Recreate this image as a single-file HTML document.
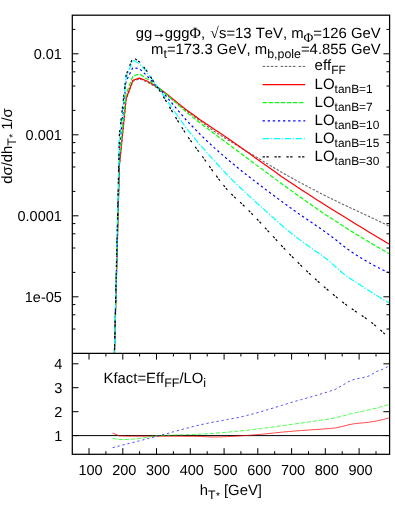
<!DOCTYPE html>
<html><head><meta charset="utf-8"><title>plot</title><style>html,body{margin:0;padding:0;background:#fff;}body{width:395px;height:505px;overflow:hidden;position:relative;font-family:"Liberation Sans",sans-serif;}</style></head><body>
<svg width="395" height="505" viewBox="0 0 395 505" style="position:absolute;left:0;top:0;will-change:transform;font-family:'Liberation Sans',sans-serif;text-rendering:geometricPrecision;font-kerning:none;font-feature-settings:'kern' 0,'liga' 0;">
<defs><clipPath id="cu"><rect x="72.3" y="15.2" width="317.3" height="338.2"/></clipPath><clipPath id="cl"><rect x="72.3" y="353.4" width="317.3" height="100.9"/></clipPath></defs>
<g clip-path="url(#cu)" fill="none" stroke-linejoin="round">
<polyline points="112.6,420.4 119.4,165.7 126.1,99.5 132.9,81.2 139.6,79.0 146.4,81.6 153.1,85.4 159.9,89.7 166.7,94.8 173.4,100.4 180.2,105.9 186.9,111.2 193.7,116.2 200.4,121.1 207.2,126.2 213.9,131.1 220.7,135.4 227.4,139.6 234.2,143.7 240.9,147.8 247.7,152.0 254.4,155.9 261.2,160.0 267.9,164.1 274.7,168.2 281.4,172.1 288.2,176.0 295.0,179.7 301.7,183.4 308.5,187.0 315.2,190.5 322.0,194.0 328.7,197.4 335.5,200.7 342.2,204.0 349.0,207.2 355.7,210.3 362.5,213.5 369.2,216.6 376.0,219.8 382.7,223.0 389.5,226.3" stroke="#666" stroke-width="1.1" stroke-dasharray="2.5 1.6"/>
<polyline points="112.6,423.9 119.4,165.2 126.1,98.8 132.9,80.3 139.6,78.1 146.4,80.7 153.1,84.5 159.9,88.8 166.7,93.9 173.4,99.5 180.2,104.9 186.9,110.2 193.7,115.1 200.4,119.9 207.2,124.5 213.9,129.0 220.7,133.5 227.4,138.0 234.2,142.7 240.9,147.5 247.7,152.3 254.4,157.2 261.2,162.0 267.9,166.8 274.7,171.6 281.4,176.4 288.2,181.0 295.0,185.5 301.7,190.0 308.5,194.3 315.2,198.7 322.0,202.9 328.7,207.2 335.5,211.4 342.2,215.6 349.0,219.8 355.7,223.9 362.5,228.1 369.2,232.2 376.0,236.2 382.7,240.2 389.5,244.2" stroke="#f00" stroke-width="1.2"/>
<polyline points="112.6,426.6 119.4,158.2 126.1,94.3 132.9,76.0 139.6,74.0 146.4,78.4 153.1,83.6 159.9,89.0 166.7,94.7 173.4,100.7 180.2,106.6 186.9,112.5 193.7,117.9 200.4,123.2 207.2,128.3 213.9,133.4 220.7,138.4 227.4,143.4 234.2,148.4 240.9,153.5 247.7,158.6 254.4,163.6 261.2,168.6 267.9,173.6 274.7,178.6 281.4,183.5 288.2,188.4 295.0,193.3 301.7,198.1 308.5,202.9 315.2,207.6 322.0,212.3 328.7,216.8 335.5,221.1 342.2,225.5 349.0,229.7 355.7,233.9 362.5,238.1 369.2,242.1 376.0,246.1 382.7,249.9 389.5,253.7" stroke="#0f0" stroke-width="1.2" stroke-dasharray="4.2 1.9"/>
<polyline points="112.6,430.2 119.4,148.2 126.1,81.2 132.9,67.5 139.6,68.8 146.4,75.3 153.1,82.4 159.9,89.3 166.7,96.9 173.4,104.9 180.2,113.0 186.9,120.7 193.7,127.8 200.4,134.6 207.2,141.2 213.9,147.4 220.7,153.4 227.4,159.2 234.2,164.8 240.9,170.3 247.7,175.7 254.4,180.9 261.2,186.1 267.9,191.2 274.7,196.2 281.4,201.2 288.2,206.2 295.0,211.1 301.7,215.8 308.5,220.3 315.2,224.9 322.0,229.6 328.7,234.4 335.5,239.5 342.2,245.0 349.0,250.1 355.7,254.6 362.5,258.8 369.2,262.8 376.0,266.5 382.7,269.9 389.5,272.8" stroke="#00f" stroke-width="1.2" stroke-dasharray="2.3 2.8"/>
<polyline points="112.6,431.9 119.4,140.2 126.1,77.8 132.9,60.1 139.6,64.0 146.4,71.4 153.1,80.8 159.9,90.2 166.7,99.9 173.4,109.8 180.2,119.5 186.9,128.8 193.7,137.3 200.4,145.2 207.2,152.8 213.9,160.4 220.7,167.8 227.4,175.0 234.2,181.8 240.9,188.3 247.7,194.6 254.4,200.8 261.2,206.8 267.9,212.9 274.7,219.0 281.4,225.0 288.2,230.8 295.0,236.3 301.7,241.3 308.5,246.1 315.2,250.9 322.0,255.6 328.7,260.6 335.5,266.7 342.2,272.8 349.0,277.7 355.7,282.1 362.5,286.5 369.2,290.8 376.0,295.1 382.7,299.2 389.5,303.2" stroke="#0ff" stroke-width="1.2" stroke-dasharray="6.4 1.7 1.2 1.7"/>
<polyline points="112.6,433.6 119.4,134.2 126.1,75.3 132.9,57.2 139.6,62.0 146.4,70.4 153.1,80.6 159.9,91.1 166.7,102.2 173.4,113.6 180.2,124.8 186.9,135.5 193.7,144.9 200.4,153.8 207.2,163.1 213.9,172.6 220.7,181.7 227.4,190.0 234.2,196.9 240.9,202.9 247.7,209.4 254.4,216.4 261.2,223.5 267.9,230.9 274.7,238.2 281.4,245.5 288.2,252.7 295.0,259.6 301.7,266.2 308.5,272.7 315.2,278.9 322.0,285.0 328.7,290.8 335.5,296.4 342.2,301.8 349.0,306.9 355.7,311.5 362.5,316.0 369.2,320.7 376.0,326.1 382.7,332.1 389.5,338.5" stroke="#000" stroke-width="1.2" stroke-dasharray="2.3 1.5 2.3 5.8"/>
</g>
<g clip-path="url(#cl)" fill="none" stroke-linejoin="round">
<line x1="72.3" y1="435.6" x2="389.6" y2="435.6" stroke="#000" stroke-width="1"/>
<polyline points="112.6,433.1 119.4,435.9 126.1,436.1 132.9,436.2 139.6,436.2 146.4,436.2 153.1,436.2 159.9,436.2 166.7,436.2 173.4,436.2 180.2,436.2 186.9,436.3 193.7,436.3 200.4,436.4 207.2,436.8 213.9,437.0 220.7,436.9 227.4,436.6 234.2,436.3 240.9,435.8 247.7,435.4 254.4,434.9 261.2,434.3 267.9,433.6 274.7,432.9 281.4,432.2 288.2,431.6 295.0,431.0 301.7,430.5 308.5,430.0 315.2,429.6 322.0,429.1 328.7,428.6 335.5,427.9 342.2,426.5 349.0,424.7 355.7,423.5 362.5,422.9 369.2,422.2 376.0,421.1 382.7,419.6 389.5,417.7" stroke="#f00" stroke-width="0.7"/>
<polyline points="112.6,438.5 119.4,439.5 126.1,439.5 132.9,439.1 139.6,438.5 146.4,437.5 153.1,436.2 159.9,435.5 166.7,435.2 173.4,435.0 180.2,434.8 186.9,434.6 193.7,434.5 200.4,434.2 207.2,433.8 213.9,433.3 220.7,432.8 227.4,432.2 234.2,431.5 240.9,430.9 247.7,430.2 254.4,429.4 261.2,428.6 267.9,427.7 274.7,426.8 281.4,425.8 288.2,424.9 295.0,423.9 301.7,423.0 308.5,422.0 315.2,421.0 322.0,420.0 328.7,419.0 335.5,417.8 342.2,416.2 349.0,414.2 355.7,412.6 362.5,411.2 369.2,409.8 376.0,408.2 382.7,406.3 389.5,404.4" stroke="#0f0" stroke-width="0.7" stroke-dasharray="4.2 1.9"/>
<polyline points="112.6,447.7 119.4,445.9 126.1,444.2 132.9,442.5 139.6,440.8 146.4,439.0 153.1,437.3 159.9,435.5 166.7,433.7 173.4,431.8 180.2,430.0 186.9,428.2 193.7,426.4 200.4,424.8 207.2,423.4 213.9,422.0 220.7,420.8 227.4,419.5 234.2,418.3 240.9,416.9 247.7,415.3 254.4,413.5 261.2,411.6 267.9,409.6 274.7,407.6 281.4,405.5 288.2,403.4 295.0,401.4 301.7,399.5 308.5,397.6 315.2,395.7 322.0,393.7 328.7,391.6 335.5,389.2 342.2,385.5 349.0,381.4 355.7,378.9 362.5,377.8 369.2,375.9 376.0,371.8 382.7,369.3 389.5,365.7" stroke="#00f" stroke-width="0.7" stroke-dasharray="2.3 2.8"/>
</g>
<g fill="none">
<line x1="262.6" x2="305.2" y1="66.4" y2="66.4" stroke="#606060" stroke-width="1.0" stroke-dasharray="2.6 1.5 2.6 1.5 2.6 1.5 2.6 3.1"/>
<line x1="262.6" x2="305.2" y1="84.6" y2="84.6" stroke="#f00" stroke-width="1.2"/>
<line x1="262.6" x2="305.2" y1="102.7" y2="102.7" stroke="#0f0" stroke-width="1.2" stroke-dasharray="4.2 1.9"/>
<line x1="262.6" x2="305.2" y1="120.9" y2="120.9" stroke="#00f" stroke-width="1.2" stroke-dasharray="2.3 2.8"/>
<line x1="262.6" x2="305.2" y1="138.7" y2="138.7" stroke="#0ff" stroke-width="1.2" stroke-dasharray="6.4 1.7 1.2 1.7"/>
<line x1="262.6" x2="305.2" y1="156.9" y2="156.9" stroke="#000" stroke-width="1.2" stroke-dasharray="2.3 1.5 2.3 5.8"/>
</g>
<g stroke="#000" stroke-width="1.0" fill="none">
<path d="M72.3 329.0h3.1M389.6 329.0h-3.1"/>
<path d="M72.3 314.8h3.1M389.6 314.8h-3.1"/>
<path d="M72.3 304.6h3.1M389.6 304.6h-3.1"/>
<path d="M72.3 296.8h6.2M389.6 296.8h-6.2"/>
<path d="M72.3 272.4h3.1M389.6 272.4h-3.1"/>
<path d="M72.3 248.0h3.1M389.6 248.0h-3.1"/>
<path d="M72.3 233.8h3.1M389.6 233.8h-3.1"/>
<path d="M72.3 223.6h3.1M389.6 223.6h-3.1"/>
<path d="M72.3 215.8h6.2M389.6 215.8h-6.2"/>
<path d="M72.3 191.4h3.1M389.6 191.4h-3.1"/>
<path d="M72.3 167.0h3.1M389.6 167.0h-3.1"/>
<path d="M72.3 152.8h3.1M389.6 152.8h-3.1"/>
<path d="M72.3 142.6h3.1M389.6 142.6h-3.1"/>
<path d="M72.3 134.8h6.2M389.6 134.8h-6.2"/>
<path d="M72.3 110.4h3.1M389.6 110.4h-3.1"/>
<path d="M72.3 86.0h3.1M389.6 86.0h-3.1"/>
<path d="M72.3 71.8h3.1M389.6 71.8h-3.1"/>
<path d="M72.3 61.6h3.1M389.6 61.6h-3.1"/>
<path d="M72.3 53.8h6.2M389.6 53.8h-6.2"/>
<path d="M72.3 29.4h3.1M389.6 29.4h-3.1"/>
<path d="M72.3 435.6h6.2M389.6 435.6h-6.2"/>
<path d="M72.3 411.7h6.2M389.6 411.7h-6.2"/>
<path d="M72.3 387.7h6.2M389.6 387.7h-6.2"/>
<path d="M72.3 363.8h6.2M389.6 363.8h-6.2"/>
<path d="M89.0 454.3v-6.2M89.0 353.4v6.2"/>
<path d="M105.9 454.3v-3.1M105.9 353.4v3.1"/>
<path d="M122.8 454.3v-6.2M122.8 353.4v6.2"/>
<path d="M139.6 454.3v-3.1M139.6 353.4v3.1"/>
<path d="M156.5 454.3v-6.2M156.5 353.4v6.2"/>
<path d="M173.4 454.3v-3.1M173.4 353.4v3.1"/>
<path d="M190.3 454.3v-6.2M190.3 353.4v6.2"/>
<path d="M207.2 454.3v-3.1M207.2 353.4v3.1"/>
<path d="M224.1 454.3v-6.2M224.1 353.4v6.2"/>
<path d="M240.9 454.3v-3.1M240.9 353.4v3.1"/>
<path d="M257.8 454.3v-6.2M257.8 353.4v6.2"/>
<path d="M274.7 454.3v-3.1M274.7 353.4v3.1"/>
<path d="M291.6 454.3v-6.2M291.6 353.4v6.2"/>
<path d="M308.5 454.3v-3.1M308.5 353.4v3.1"/>
<path d="M325.3 454.3v-6.2M325.3 353.4v6.2"/>
<path d="M342.2 454.3v-3.1M342.2 353.4v3.1"/>
<path d="M359.1 454.3v-6.2M359.1 353.4v6.2"/>
<path d="M376.0 454.3v-3.1M376.0 353.4v3.1"/>
</g>
<rect x="72.3" y="15.2" width="317.3" height="439.1" fill="none" stroke="#000" stroke-width="1.25"/>
<line x1="72.3" x2="389.6" y1="353.4" y2="353.4" stroke="#000" stroke-width="1.3"/>
<g font-size="14.5" fill="#000" opacity="0.999">
<text x="61.9" y="58.5" text-anchor="end">0.01</text>
<text x="61.9" y="139.5" text-anchor="end">0.001</text>
<text x="61.9" y="220.5" text-anchor="end">0.0001</text>
<text x="61.9" y="301.5" text-anchor="end">1e-05</text>
<text x="62.4" y="440.8" text-anchor="end">1</text>
<text x="62.4" y="416.9" text-anchor="end">2</text>
<text x="62.4" y="392.9" text-anchor="end">3</text>
<text x="62.4" y="368.9" text-anchor="end">4</text>
<text x="90.5" y="474.8" text-anchor="middle">100</text>
<text x="124.3" y="474.8" text-anchor="middle">200</text>
<text x="158.0" y="474.8" text-anchor="middle">300</text>
<text x="191.8" y="474.8" text-anchor="middle">400</text>
<text x="225.6" y="474.8" text-anchor="middle">500</text>
<text x="259.3" y="474.8" text-anchor="middle">600</text>
<text x="293.1" y="474.8" text-anchor="middle">700</text>
<text x="326.8" y="474.8" text-anchor="middle">800</text>
<text x="360.6" y="474.8" text-anchor="middle">900</text>
<text x="135.8" y="37.6" font-size="14.85">gg</text>
<path d="M154.8 35.4H161.5" fill="none" stroke="#000" stroke-width="0.9"/><path d="M163.6 35.4L160.3 33.5Q161.2 35.4 160.3 37.3Z" fill="#000"/>
<text x="380.6" y="37.6" text-anchor="end" font-size="14.85">ggg<tspan font-family="'Liberation Serif',serif" font-size="15.6">Φ</tspan>,<tspan dx="0.9"> </tspan><tspan font-family="'Liberation Serif',serif" font-size="15.5">√</tspan><tspan dx="0.3">s=13 TeV, m</tspan><tspan font-size="13.4" dy="4.1" font-family="'Liberation Serif',serif">Φ</tspan><tspan dy="-4.1">=126 GeV</tspan></text>
<text x="380.6" y="53.6" text-anchor="end" font-size="14.85">m<tspan font-size="12.4" dy="4.1">t</tspan><tspan dy="-4.1">=173.3 GeV, m</tspan><tspan font-size="12.4" dy="4.1">b,pole</tspan><tspan dy="-4.1">=4.855 GeV</tspan></text>
<text x="314.6" y="70.3" font-size="15">eff<tspan font-size="11.9" dy="4.1">FF</tspan></text>
<text x="314.6" y="88.5" font-size="15">LO<tspan font-size="11.9" dy="4.1">tanB=1</tspan></text>
<text x="314.6" y="106.6" font-size="15">LO<tspan font-size="11.9" dy="4.1">tanB=7</tspan></text>
<text x="314.6" y="124.8" font-size="15">LO<tspan font-size="11.9" dy="4.1">tanB=10</tspan></text>
<text x="314.6" y="142.6" font-size="15">LO<tspan font-size="11.9" dy="4.1">tanB=15</tspan></text>
<text x="314.6" y="160.8" font-size="15">LO<tspan font-size="11.9" dy="4.1">tanB=30</tspan></text>
<text x="103.6" y="383" font-size="14.85">Kfact=Eff<tspan font-size="12.4" dy="4.1">FF</tspan><tspan dy="-4.1">/LO</tspan><tspan font-size="12.4" dy="4.1">i</tspan></text>
<text x="199.8" y="495" font-size="14.85">h<tspan font-size="12.4" dy="4.1">T</tspan><tspan font-size="10" dy="-0.4" dx="0.3">*</tspan><tspan dy="-3.7"> [GeV]</tspan></text>
<text transform="translate(11.8,146) rotate(-90)" text-anchor="middle" font-size="14.85">dσ/dh<tspan font-size="12.4" dy="4.1">T</tspan><tspan font-size="10" dy="-0.4" dx="0.3">*</tspan><tspan dy="-3.7"> 1/σ</tspan></text>
</g>
</svg>
</body></html>
